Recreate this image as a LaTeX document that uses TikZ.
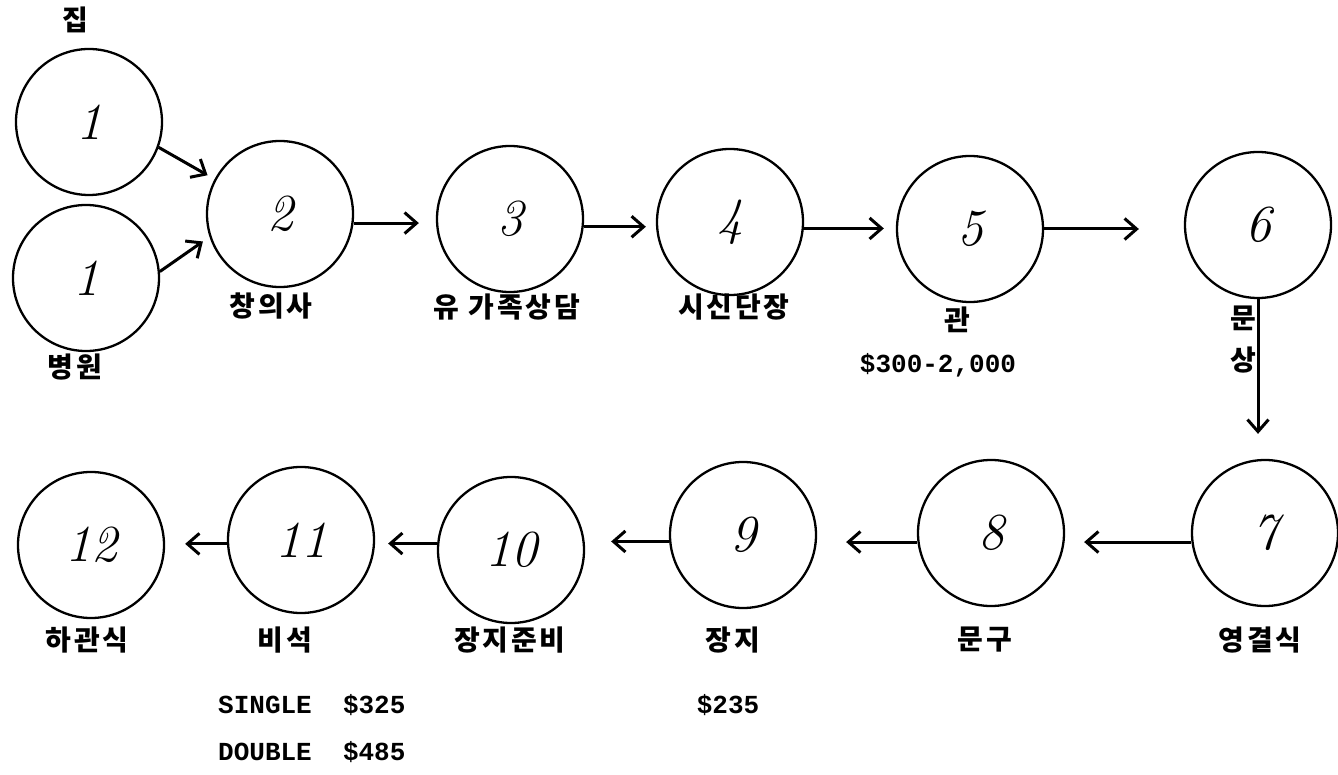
\documentclass[tikz,border=0pt]{standalone}
\usepackage{fontspec}
\usetikzlibrary{positioning,arrows.meta}
\newfontfamily\kor[LetterSpace=10]{Noto Sans CJK KR}
\newfontfamily\mono{Liberation Mono}

\begin{document}
\begin{tikzpicture}
[x=1pt,y=-1pt,
 stage/.style={circle,draw,line width=2.3pt,minimum size=146pt,inner sep=0pt,font=\fontsize{52}{52}\selectfont\itshape},
 rite/.style={font=\kor\bfseries\fontsize{28}{32}\selectfont,inner sep=0pt},
 price/.style={font=\mono\bfseries\fontsize{26}{30}\selectfont,inner sep=0pt},
 flow/.style={-{Straight Barb[length=12pt,width=21pt]},line width=3pt}]
\useasboundingbox[fill=white] (0,0) rectangle (1338,775);
% top row
\node[stage] (c1a) at (89,122) {1};
\node[stage] (c1b) at (86,278) {1};
\node[stage] (c2) at (280,214) {2};
\node[stage] (c3) at (510,219) {3};
\node[stage] (c4) at (730,222) {4};
\node[stage] (c5) at (970,229) {5};
\node[stage] (c6) at (1258,225) {6};
% bottom row
\node[stage] (c7) at (1265,533) {7};
\node[stage] (c8) at (991,533) {8};
\node[stage] (c9) at (743,535) {9};
\node[stage] (c10) at (511,550) {10};
\node[stage] (c11) at (301,540) {11};
\node[stage] (c12) at (91,545) {12};
% labels
\node[rite] (home) at (75,20) {집};
\node[rite] (hosp) at (75,367) {병원};
\node[rite] (l2) at (271,306) {창의사};
\node[rite] (l3) at (507,307) {유 가족상담};
\node[rite] (l4) at (734,307) {시신단장};
\node[rite] (l5) at (957,320) {관};
\node[price] (p5) at (938,365) {\$300-2,000};
\node[rite] (l6a) at (1243,318) {문};
\node[rite] (l6b) [below=16pt of l6a] {상};
\node[rite] (l7) at (1260,640) {영결식};
\node[rite] (l8) at (985,640) {문구};
\node[rite] (l9) at (733,640) {장지};
\node[rite] (l10) at (510,640) {장지준비};
\node[rite] (l11) at (285,640) {비석};
\node[rite] (l12) at (87,640) {하관식};
\node[price,anchor=west] (p11a) at (218,705) {SINGLE\ \ \$325};
\node[price,anchor=west] (p11b) at (218,752) {DOUBLE\ \ \$485};
\node[price] (p9) at (728,705) {\$235};
% arrows
\draw[flow,shorten >=8pt] (c1a.340) -- (c2.152);
\draw[flow,shorten >=8pt] (c1b.5) -- (c2.198);
\draw[flow,shorten >=17pt] (c2.-7) -- (c2.-7 -| c3.west);
\draw[flow,shorten >=10pt] (c3.-6) -- (c3.-6 -| c4.west);
\draw[flow,shorten >=12pt] (c4.-5) -- (c4.-5 -| c5.west);
\draw[flow,shorten >=45pt] (c5.east) -- (c5.east -| c6.west);
\draw[flow,shorten >=25pt] (c6.south) -- (c6.south |- c7.north);
\draw[flow,shorten >=19pt] (c7.187) -- (c7.187 -| c8.east);
\draw[flow,shorten >=29pt] (c8.187) -- (c8.187 -| c9.east);
\draw[flow,shorten >=26pt] (c9.185) -- (c9.185 -| c10.east);
\draw[flow,shorten >=13pt] (c10.175) -- (c10.175 -| c11.east);
\draw[flow,shorten >=20pt] (c11.183) -- (c11.183 -| c12.east);
\end{tikzpicture}
\end{document}
